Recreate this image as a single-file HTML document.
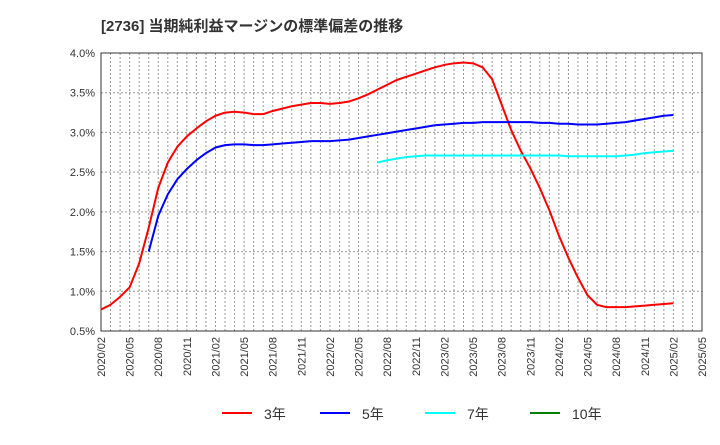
<!DOCTYPE html>
<html><head><meta charset="utf-8"><style>
body{margin:0;background:#fff;font-family:"Liberation Sans","Noto Sans CJK JP",sans-serif}
</style></head><body>
<svg width="720" height="440" xmlns="http://www.w3.org/2000/svg" font-family="Liberation Sans, Noto Sans CJK JP, sans-serif">
<text x="101" y="31" font-size="15" font-weight="bold" fill="#333">[2736]  当期純利益マージンの標準偏差の推移</text>
<g id="grid"></g><g id="axes"></g><g id="series"></g><g id="legend"></g>
</svg>
<script>
const xLabels=["2020/02","2020/05","2020/08","2020/11","2021/02","2021/05","2021/08","2021/11","2022/02","2022/05","2022/08","2022/11","2023/02","2023/05","2023/08","2023/11","2024/02","2024/05","2024/08","2024/11","2025/02","2025/05"];
const yTicks=[0.5,1.0,1.5,2.0,2.5,3.0,3.5,4.0];
const s3start=0;
const s3=[0.77,0.83,0.93,1.05,1.35,1.8,2.3,2.62,2.82,2.95,3.05,
3.14,3.21,3.25,3.26,3.25,3.23,3.23,3.27,3.30,3.33,3.35,3.37,
3.37,3.36,3.37,3.39,3.43,3.48,3.54,3.60,3.66,3.70,3.74,3.78,
3.82,3.85,3.87,3.88,3.87,3.82,3.67,3.35,3.03,2.77,2.55,2.30,
2.02,1.70,1.42,1.17,0.95,0.83,0.80,0.80,0.80,0.81,0.82,0.83,0.84,0.85];
const s5start=5;
const s5=[1.5,1.95,2.22,2.41,2.54,2.65,
2.74,2.81,2.84,2.85,2.85,2.84,2.84,2.85,2.86,2.87,2.88,2.89,
2.89,2.89,2.90,2.91,2.93,2.95,2.97,2.99,3.01,3.03,3.05,3.07,
3.09,3.10,3.11,3.12,3.12,3.13,3.13,3.13,3.13,3.13,3.13,3.12,
3.12,3.11,3.11,3.10,3.10,3.10,3.11,3.12,3.13,3.15,3.17,3.19,3.21,3.22];
const s7start=29;
const s7=[2.62,2.65,2.67,2.69,2.70,2.71,
2.71,2.71,2.71,2.71,2.71,2.71,2.71,2.71,2.71,2.71,2.71,2.71,
2.71,2.71,2.70,2.70,2.70,2.70,2.70,2.70,2.71,2.72,2.74,2.75,2.76,2.77];
const s10start=0;
const s10=[];
const L=101,R=702,T=53,B=331,NM=63;
const X=i=>L+i*(R-L)/NM;
const Y=v=>B-(v-0.5)*(B-T)/3.5;
const NS="http://www.w3.org/2000/svg";
function mk(t,a,p){const e=document.createElementNS(NS,t);for(const k in a)e.setAttribute(k,a[k]);p.appendChild(e);return e;}
const grid=document.getElementById('grid'),axes=document.getElementById('axes'),ser=document.getElementById('series'),leg=document.getElementById('legend');
for(let i=1;i<NM;i++){const l=mk('line',{x1:X(i),x2:X(i),y1:T,y2:B,stroke:'#999','stroke-dasharray':'2,2','stroke-width':1},grid);

}
yTicks.forEach(v=>{const l=mk('line',{x1:L,x2:R,y1:Y(v),y2:Y(v),stroke:'#999','stroke-dasharray':'2,2','stroke-width':1},grid);


const t=mk('text',{x:L-6,y:Y(v)+4,'font-size':11,'text-anchor':'end',fill:'#333'},axes);t.textContent=v.toFixed(1)+'%';

});
const fr=mk('rect',{x:L,y:T,width:R-L,height:B-T,fill:'none',stroke:'#333','stroke-width':1},axes);


xLabels.forEach((s,k)=>{const x=X(k*3);const t=mk('text',{x:x+4,y:B+6,'font-size':11,'text-anchor':'end',fill:'#333',transform:`rotate(-90 ${x+4} ${B+6})`},axes);t.textContent=s;

});
function line(arr,st,col,name){if(!arr.length)return;const p=mk('polyline',{points:arr.map((v,i)=>X(st+i)+','+Y(v)).join(' '),fill:'none',stroke:col,'stroke-width':2,'stroke-linejoin':'round'},ser);

}
line(s3,s3start,'#ff0000','series-3y');
line(s5,s5start,'#0000ff','series-5y');
line(s7,s7start,'#00ffff','series-7y');
line(s10,s10start,'#008000','series-10y');
[['3年','#ff0000',222],['5年','#0000ff',320],['7年','#00ffff',425],['10年','#008000',530]].forEach(([n,c,x])=>{
const g=mk('g',{},leg);


mk('line',{x1:x,x2:x+30,y1:413,y2:413,stroke:c,'stroke-width':2},g);
const t=mk('text',{x:x+42,y:419,'font-size':14,fill:'#333'},g);t.textContent=n;});
</script>
</body></html>
